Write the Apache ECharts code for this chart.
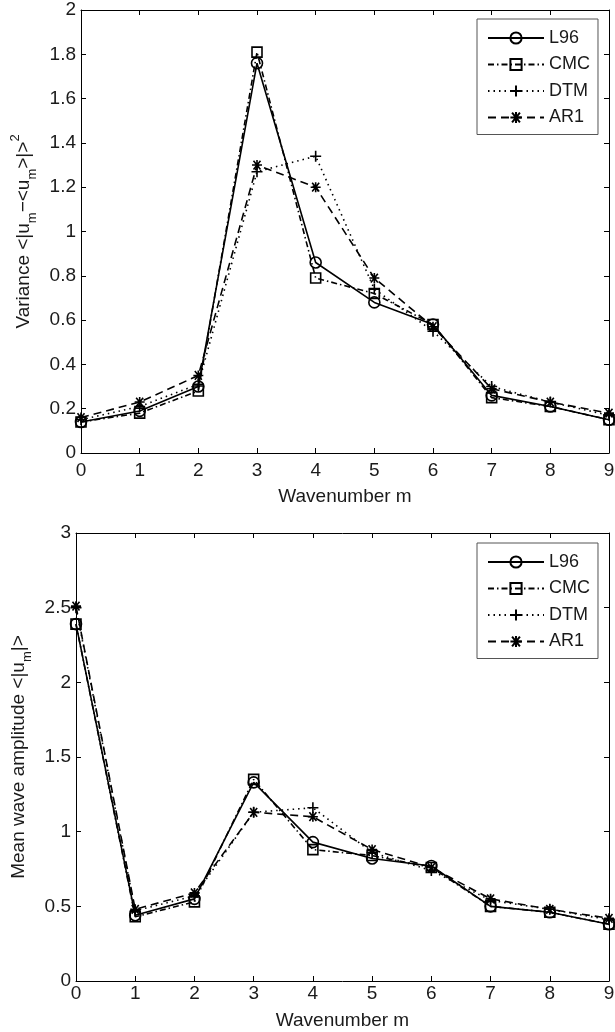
<!DOCTYPE html>
<html>
<head>
<meta charset="utf-8">
<script src="https://cdn.jsdelivr.net/npm/echarts@6/dist/echarts.min.js"></script>
<style>
html,body{margin:0;padding:0;background:#fff;}
#chart{width:615px;height:1032px;}
</style>
</head>
<body>
<div id="chart"></div>
<script>
// ---- Data ----
const wavenumbers = [0, 1, 2, 3, 4, 5, 6, 7, 8, 9];
const seriesNames = ['L96', 'CMC', 'DTM', 'AR1'];

// Top panel: variance
const varL96 = [0.14, 0.19, 0.30, 1.76, 0.86, 0.68, 0.58, 0.26, 0.21, 0.15];
const varCMC = [0.14, 0.18, 0.28, 1.81, 0.79, 0.72, 0.58, 0.25, 0.21, 0.15];
const varDTM = [0.15, 0.21, 0.31, 1.27, 1.34, 0.74, 0.55, 0.30, 0.23, 0.17];
const varAR1 = [0.16, 0.23, 0.35, 1.30, 1.20, 0.79, 0.57, 0.29, 0.23, 0.18];

// Bottom panel: mean wave amplitude
const ampL96 = [2.39, 0.44, 0.55, 1.33, 0.93, 0.82, 0.77, 0.50, 0.46, 0.38];
const ampCMC = [2.39, 0.43, 0.53, 1.35, 0.88, 0.84, 0.76, 0.50, 0.46, 0.38];
const ampDTM = [2.50, 0.47, 0.57, 1.13, 1.16, 0.86, 0.74, 0.54, 0.48, 0.41];
const ampAR1 = [2.51, 0.48, 0.59, 1.13, 1.10, 0.88, 0.76, 0.55, 0.48, 0.42];

// ---- Styles ----
const FONT = 'Liberation Sans, Arial, sans-serif';
const TXT = '#1a1a1a';
const FS = 19;
const styles = {
  L96: {type: 'solid', symbol: 'circle', size: 11},
  CMC: {type: [6, 3, 1.5, 3], symbol: 'rect', size: 10},
  DTM: {type: [1.5, 4], symbol: 'path://M5,0L5,10M0,5L10,5', size: 11},
  AR1: {type: [8, 5], symbol: 'path://M1.5,1.5L8.5,8.5M8.5,1.5L1.5,8.5M0,5L10,5M5,1L5,9', size: 10}
};

function mk(name, vals, idx) {
  const s = styles[name];
  return {
    name: name,
    type: 'line',
    xAxisIndex: idx, yAxisIndex: idx,
    data: wavenumbers.map((x, i) => [x, vals[i]]),
    symbol: s.symbol,
    symbolSize: s.size,
    showAllSymbol: true,
    lineStyle: {color: '#000', width: 1.6, type: s.type},
    itemStyle: {color: 'rgba(255,255,255,0)', borderColor: '#000', borderWidth: 1.6},
    emphasis: {disabled: true},
    animation: false,
    z: 3
  };
}

const tickLabel = {color: TXT, fontSize: FS, fontFamily: FONT};
const axLine = {show: true, onZero: false, lineStyle: {color: '#000', width: 1}};
const axTick = {inside: true, length: 5, lineStyle: {color: '#000'}};

function xAxes(gridIndex, labelMargin, nameGap) {
  return [
    {
      type: 'value', gridIndex: gridIndex, min: 0, max: 9, interval: 1,
      position: 'bottom',
      axisLine: axLine, axisTick: axTick,
      axisLabel: Object.assign({margin: labelMargin}, tickLabel),
      splitLine: {show: false},
      name: 'Wavenumber m', nameLocation: 'middle', nameGap: nameGap,
      nameTextStyle: {color: TXT, fontSize: FS, fontFamily: FONT}
    },
    {
      type: 'value', gridIndex: gridIndex, min: 0, max: 9, interval: 1,
      position: 'top',
      axisLine: axLine, axisTick: axTick,
      axisLabel: {show: false}, splitLine: {show: false}
    }
  ];
}

function yAxes(gridIndex, max, interval, name, nameGap) {
  return [
    {
      type: 'value', gridIndex: gridIndex, min: 0, max: max, interval: interval,
      position: 'left',
      axisLine: axLine, axisTick: axTick,
      axisLabel: Object.assign({margin: 5}, tickLabel),
      splitLine: {show: false},
      name: name, nameLocation: 'middle', nameGap: nameGap, nameRotate: 90,
      nameTextStyle: {
        color: TXT, fontSize: FS, fontFamily: FONT, lineHeight: 30,
        rich: {
          n: {fontSize: FS, fontFamily: FONT, color: TXT, lineHeight: 30, verticalAlign: 'middle'},
          s: {fontSize: 13, fontFamily: FONT, color: TXT, lineHeight: 13, verticalAlign: 'bottom'},
          p: {fontSize: 13, fontFamily: FONT, color: TXT, lineHeight: 13, verticalAlign: 'top'}
        }
      }
    },
    {
      type: 'value', gridIndex: gridIndex, min: 0, max: max, interval: interval,
      position: 'right',
      axisLine: axLine, axisTick: axTick,
      axisLabel: {show: false}, splitLine: {show: false}
    }
  ];
}

function legend(top) {
  return {
    data: seriesNames, orient: 'vertical', left: 477, top: top,
    backgroundColor: '#fff', borderColor: '#555', borderWidth: 1,
    padding: [10, 8, 8, 10],
    itemWidth: 56, itemHeight: 14, itemGap: 8.5,
    selectedMode: false,
    textStyle: {color: TXT, fontSize: 18, fontFamily: FONT, lineHeight: 14}
  };
}

const xa0 = xAxes(0, 8, 34), xa1 = xAxes(1, 3, 30);
const ya0 = yAxes(0, 2, 0.2, '{n|Variance <|u}{s|m}{n|−<u}{s|m}{n|>|>}{p|2}', 41);
const ya1 = yAxes(1, 3, 0.5, '{n|Mean wave amplitude <|u}{s|m}{n||>}', 41);

const series = [];
const topVals = {L96: varL96, CMC: varCMC, DTM: varDTM, AR1: varAR1};
const botVals = {L96: ampL96, CMC: ampCMC, DTM: ampDTM, AR1: ampAR1};
seriesNames.forEach(n => series.push(mk(n, topVals[n], 0)));
seriesNames.forEach(n => series.push(mk(n, botVals[n], 1)));

const option = {
  backgroundColor: '#fff',
  animation: false,
  grid: [
    {left: 81, top: 10, width: 528, height: 443, containLabel: false, outerBoundsMode: 'none'},
    {left: 76, top: 533, width: 533, height: 448, containLabel: false, outerBoundsMode: 'none'}
  ],
  xAxis: [xa0[0], xa1[0], xa0[1], xa1[1]],
  yAxis: [ya0[0], ya1[0], ya0[1], ya1[1]],
  legend: [legend(19), legend(543)],
  series: series
};

const chart = echarts.init(document.getElementById('chart'), null, {renderer: 'canvas'});
chart.setOption(option);
</script>
</body>
</html>
